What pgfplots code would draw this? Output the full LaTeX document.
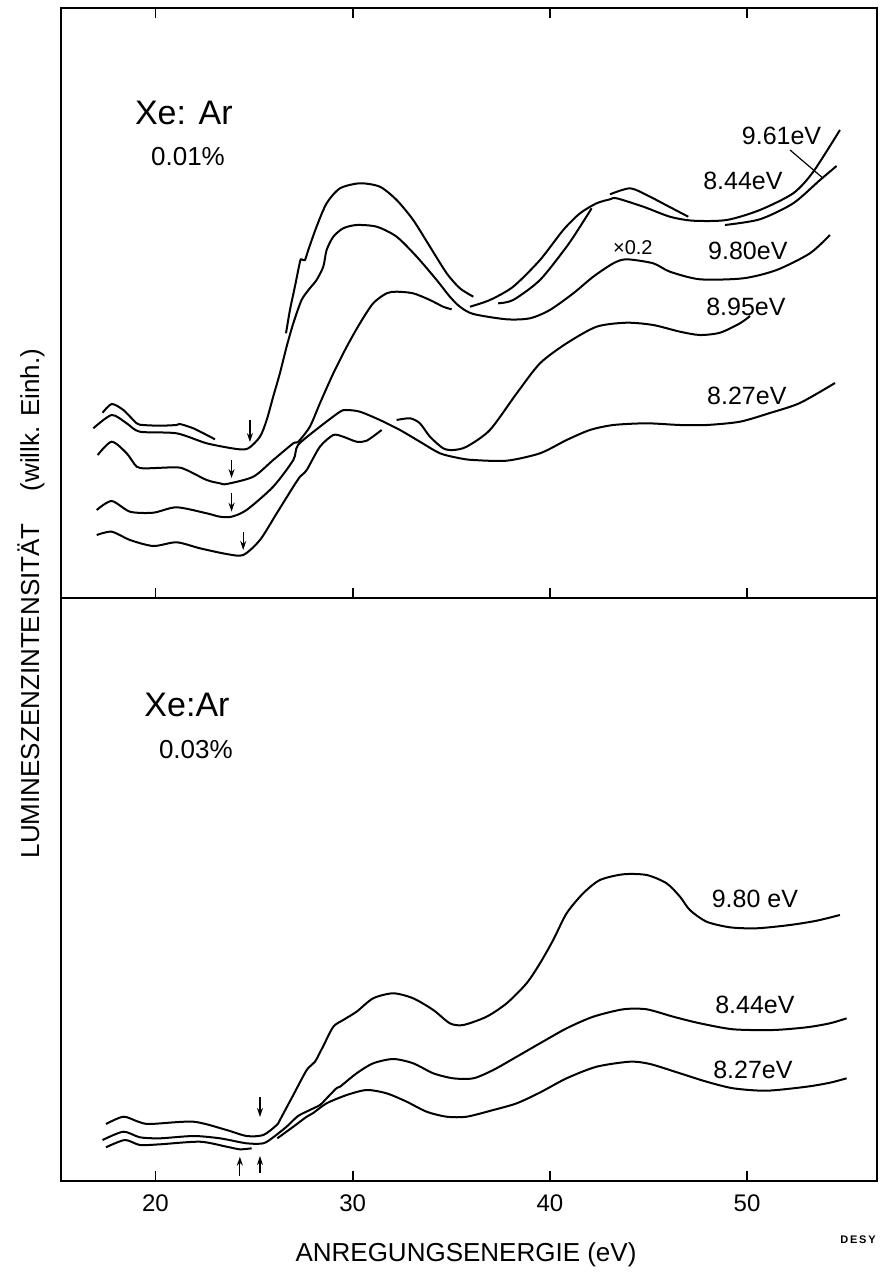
\documentclass[border=0pt]{standalone}
\usepackage{fontspec}
\setmainfont{Liberation Sans}
\usepackage{pgfplots}
\pgfplotsset{compat=1.18}
\usetikzlibrary{arrows.meta}

\pgfplotsset{
  panel/.style={
    scale only axis,
    width=408pt,
    xmin=15.21, xmax=56.59,
    ymin=0,
    ytick=\empty,
    xtick={20,30,40,50},
    tick align=inside,
    major tick length=5pt,
    axis line style={line width=1.1pt},
    every tick/.style={line width=0.9pt, black},
    /pgf/number format/assume math mode=true,
    xticklabel style={font=\fontsize{12}{12}\selectfont, yshift=-3.5pt},
  },
  curve/.style={black, line width=1pt, smooth, tension=0.45, no markers},
  onset/.style={black, line width=0.6pt, no markers,
    quiver={u=0, v=\thisrow{v}}, -{Stealth[length=4.5pt, width=3pt]}},
}
\tikzset{lbl/.style={font=\fontsize{12.5}{14}\selectfont, inner sep=0pt}}

\begin{document}
\begin{tikzpicture}
\useasboundingbox (0pt,0pt) rectangle (441.5pt,-637pt);

% ---------------- upper panel: Xe:Ar 0.01 % ----------------
\begin{axis}[panel, at={(30.5pt,-299pt)}, anchor=south west,
  height=295pt, ymax=590, xtick pos=both, xticklabels={}]

% 9.61 eV (pieces)
\addplot[curve] coordinates {(17.32,185.3) (17.78,194) (18.37,188) (19.05,174.7)
  (19.38,173) (20.23,172.3) (21.07,173) (21.24,174) (21.92,169.7) (22.60,163) (23.02,158.7)};
\addplot[curve] coordinates {(26.62,264.7) (26.82,288) (27.07,311.3) (27.33,336.3)
  (27.41,338.7) (27.58,338) (27.75,348) (28.17,371.3) (28.68,394.7) (29.36,409.7)
  (30.37,414.7) (31.38,411.3) (32.23,398) (33.07,378) (33.92,351.3) (34.77,324.7)
  (35.44,309.7) (36.12,301.3)};
\addplot[curve] coordinates {(35.95,291.3) (36.96,298) (38.14,311.3) (39.50,338)
  (40.68,368) (41.53,384.7) (42.37,394.7) (43.05,398.7) (43.39,399.7) (44.74,391.3)
  (46.09,381.3) (47.27,377.3) (48.97,378) (50.65,388) (52.34,404.7) (53.36,426.3) (54.71,468)};

% 8.44 eV (pieces)
\addplot[curve] coordinates {(37.38,294.7) (38.14,298) (39.50,318) (40.85,351.3)
  (41.53,371.3) (42.12,389.7)};
\addplot[curve] coordinates {(43.05,403.7) (44.06,409.7) (44.91,403) (45.98,392) (47.02,381.3)};
\addplot[curve] coordinates {(48.88,373) (50.65,378.7) (52.34,394.7) (53.70,418) (54.54,432)};

% 9.80 eV (x0.2)
\addplot[curve] coordinates {(16.85,169.7) (17.78,183) (18.54,174.7) (19.21,166.3)
  (21.07,164.7) (22.60,154.7) (24.12,149) (24.71,149.7) (25.30,161.3) (25.64,178)
  (25.97,201.3) (26.31,224.7) (26.65,251.3) (26.99,274.7) (27.41,298) (27.83,309.7)
  (28.17,318) (28.51,331.3) (28.68,348) (29.02,361.3) (29.52,369.7) (30.20,373)
  (31.22,371.3) (32.23,361.3) (33.25,341.3) (34.26,318) (34.93,301.3) (35.44,291.3)
  (36.12,284) (37.81,278.7) (38.99,279.7) (40.00,288) (41.19,304.7) (42.20,321.3)
  (43.22,334.7) (43.89,338.7) (45.24,334.7) (46.09,326.3) (47.61,318.7) (49.81,319.7)
  (51.50,328) (53.19,344.7) (54.20,363)};

% 8.95 eV
\addplot[curve] coordinates {(17.07,143) (17.78,156.3) (18.54,144.7) (19.05,131.3)
  (19.55,129.7) (21.07,130.7) (21.58,128) (22.60,118) (23.27,114.7) (23.61,114)
  (24.96,121.3) (25.97,138) (26.99,154.7) (27.23,156) (27.83,171.3) (28.34,194.7)
  (29.02,224.7) (29.70,251.3) (30.37,274.7) (31.04,294.7) (31.72,304.7) (32.23,306.3)
  (33.07,304.7) (33.92,298) (34.59,291.3) (35.02,288.7)};
\addplot[curve] coordinates {(32.23,178) (32.91,179.7) (33.41,174.7) (33.92,161.3)
  (34.59,149.7) (35.10,148) (35.78,151.3) (36.96,168) (38.32,204.7) (39.50,234.7)
  (40.85,254.7) (42.37,271.3) (43.89,275.3) (45.24,273) (46.60,266.3) (47.61,263)
  (48.63,265.3) (49.64,274.7) (50.15,282)};

% 8.27 eV
\addplot[curve] coordinates {(17.02,88) (17.78,97) (18.71,86.3) (19.89,85.3)
  (21.07,90.7) (22.60,84.7) (23.27,81.3) (23.86,81.3) (24.62,88) (25.97,111.3)
  (26.99,138) (27.23,153) (28.34,171.3) (29.36,186.3) (29.70,188) (30.37,186.3)
  (31.38,178) (32.40,168) (33.41,156.3) (34.43,144.7) (35.44,139.7) (36.12,138)
  (37.81,137.3) (39.50,144.7) (40.85,158) (42.03,168) (43.22,173) (44.91,174.7)
  (46.60,173) (47.95,173) (49.64,176.3) (51.16,185) (52.68,195) (54.46,215)};
\addplot[curve] coordinates {(17.02,63) (17.78,66.3) (18.71,58) (19.89,52)
  (21.07,55.7) (22.26,49.7) (23.61,44) (24.45,43) (25.30,58) (26.15,84.7)
  (26.99,111.3) (27.33,121.3) (27.67,128) (28.34,151.3) (29.02,163) (29.52,161.3)
  (30.20,156.3) (30.71,157.3) (31.47,168)};

% onset arrows
\addplot[onset] table {
x     y    v
24.79 178 -22
23.86 138 -18
23.86 105 -18.7
24.45 66.3 -18.3
};

% pointer from the 9.61 eV label
\addplot[black, line width=0.6pt, no markers] coordinates {(52.18,448) (53.86,419.7)};

\node[font=\fontsize{17}{20}\selectfont] at (axis cs:21.44,485.5) {Xe: Ar};
\node[font=\fontsize{13}{15}\selectfont] at (axis cs:21.65,441) {0.01\%};
\node[lbl] at (axis cs:51.75,462) {9.61eV};
\node[lbl] at (axis cs:49.79,417) {8.44eV};
\node[font=\fontsize{10}{12}\selectfont, inner sep=0pt] at (axis cs:44.21,350.5) {×0.2};
\node[lbl] at (axis cs:50.04,347) {9.80eV};
\node[lbl] at (axis cs:49.94,291.3) {8.95eV};
\node[lbl] at (axis cs:49.99,202) {8.27eV};
\end{axis}

% ---------------- lower panel: Xe:Ar 0.03 % ----------------
\begin{axis}[panel, at={(30.5pt,-590.5pt)}, anchor=south west,
  height=291.5pt, ymax=583, xtick pos=left, xticklabels={20,30,40,50}]

% 9.80 eV
\addplot[curve] coordinates {(17.49,57) (18.37,64.3) (19.13,59.3) (19.72,57)
  (21.92,59.3) (23.61,51) (24.62,45) (25.47,46) (26.15,56) (26.31,61) (26.99,86)
  (27.67,111) (28.09,119.3) (28.51,135) (29.02,154.3) (29.52,161) (30.20,169.3)
  (31.04,182.7) (32.06,187.7) (33.07,182.7) (34.09,171) (34.93,157.7) (35.61,156)
  (36.79,164.3) (37.81,177.7) (38.82,197.7) (39.50,217.7) (40.17,241) (40.85,267.7)
  (41.69,287.7) (42.54,301) (43.72,306.7) (44.91,306) (45.92,297.7) (46.60,284.3)
  (47.10,271) (47.95,259.3) (49.13,253.7) (50.49,252.7) (52.18,256) (53.53,260.3) (54.71,266)};

% 8.44 eV
\addplot[curve] coordinates {(17.32,41) (18.37,49.3) (19.21,43.7) (20.23,42.7)
  (21.92,45) (23.27,42.7) (24.62,37.7) (25.47,37.7) (25.97,43.7) (26.65,54.3)
  (27.23,65) (27.83,71) (28.34,76) (28.68,82.7) (29.19,93) (29.36,94.3) (30.20,107.7)
  (31.04,117.7) (32.06,122) (33.07,117.7) (34.09,107.7) (35.10,102.7) (36.12,102.7)
  (37.13,111) (38.32,124.3) (39.50,137.7) (40.85,152.7) (42.20,164.3) (43.72,171.7)
  (44.91,171.7) (46.26,164.3) (47.61,157.7) (49.30,151.7) (51.33,151) (53.02,153.7)
  (54.20,157.7) (55.05,162.7)};

% 8.27 eV
\addplot[curve] coordinates {(17.49,33.7) (18.45,41) (19.21,36) (20.23,36.7)
  (22.26,39.3) (23.61,34.3) (24.28,31.7) (24.88,32.7)};
\addplot[curve] coordinates {(26.18,42.7) (26.99,54.3) (27.67,64.3) (28.00,68)
  (28.68,77.7) (29.70,86) (30.71,91) (31.72,87.7) (32.74,79.3) (33.75,69.3)
  (34.77,64.3) (35.78,64.3) (37.13,71) (38.32,77.7) (39.50,88.5) (40.85,102.7)
  (42.37,114.3) (44.06,119.3) (45.08,117) (46.60,107.7) (47.95,99.3) (49.30,92.7)
  (50.99,90.3) (53.02,94.3) (54.20,98.3) (55.05,102.7)};

% onset arrows
\addplot[onset] table {
x     y   v
25.30 84  -20
24.28 5   19.3
25.30 8   17
};

\node[font=\fontsize{17}{20}\selectfont] at (axis cs:21.60,476) {Xe:Ar};
\node[font=\fontsize{13}{15}\selectfont] at (axis cs:22.05,431) {0.03\%};
\node[lbl] at (axis cs:50.40,282) {9.80 eV};
\node[lbl] at (axis cs:50.40,176) {8.44eV};
\node[lbl] at (axis cs:50.30,111) {8.27eV};
\end{axis}

% axis titles
\node[font=\fontsize{13}{15}\selectfont] at (233pt,-627.5pt) {ANREGUNGSENERGIE (eV)};
\node[font=\fontsize{13}{15}\selectfont, rotate=90] at (15.5pt,-301.75pt)
  {LUMINESZENZINTENSITÄT\hspace{16pt}(willk. Einh.)};
\node[font=\fontsize{5.5}{6}\selectfont\bfseries] at (429pt,-620pt) {D\,E\,S\,Y};
\end{tikzpicture}
\end{document}
